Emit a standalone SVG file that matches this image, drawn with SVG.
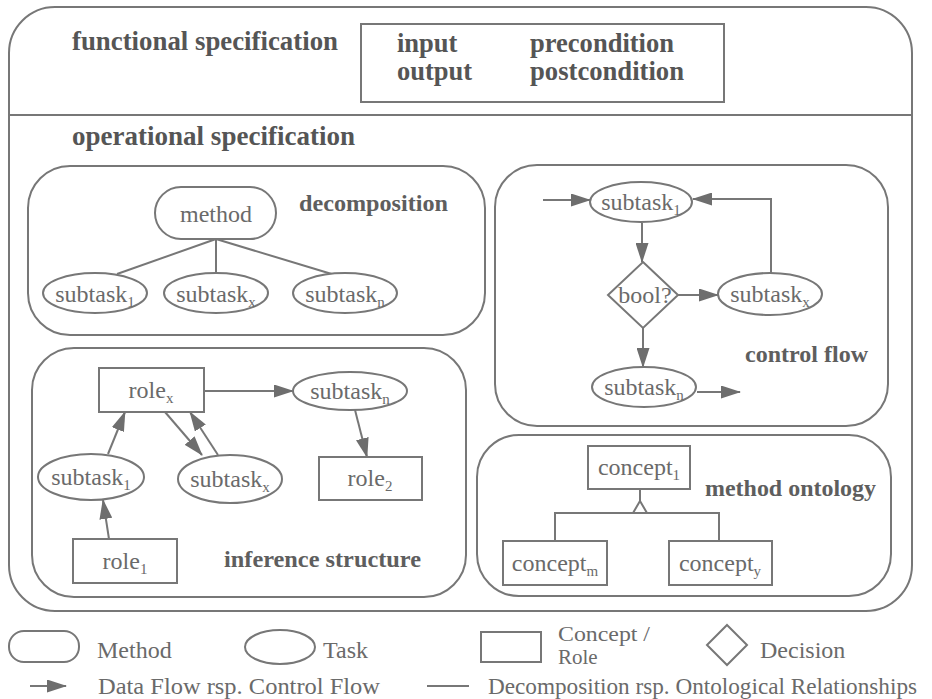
<svg xmlns="http://www.w3.org/2000/svg" width="932" height="699" viewBox="0 0 932 699">
  <defs>
    <marker id="arrow" viewBox="0 0 20 13" markerUnits="userSpaceOnUse" markerWidth="20" markerHeight="13" refX="19" refY="6.5" orient="auto">
      <path d="M0,0 L20,6.5 L0,13 z" fill="#6e6e6e"/>
    </marker>
    <style>
      .frame { fill: none; stroke: #777; stroke-width: 2; }
      .shape { fill: #fff; stroke: #777; stroke-width: 2; }
      .edge { fill: none; stroke: #777; stroke-width: 2; }
      .flow { fill: none; stroke: #777; stroke-width: 2; }
      .head { font-family: "Liberation Serif", "Times New Roman", serif; font-weight: bold; font-size: 26.5px; fill: #555; }
      .sect { font-family: "Liberation Serif", "Times New Roman", serif; font-weight: bold; font-size: 24px; fill: #5e5e5e; }
      .lbl { font-family: "Liberation Serif", "Times New Roman", serif; font-size: 24px; fill: #6a6a6a; text-anchor: middle; }
      .leg { font-family: "Liberation Serif", "Times New Roman", serif; font-size: 24px; fill: #6a6a6a; }
      .leg2 { font-family: "Liberation Serif", "Times New Roman", serif; font-size: 21px; fill: #6a6a6a; }
      .sub { font-size: 15px; fill: #6a6a6a; }
    </style>
  </defs>

  <!-- outer task frame -->
  <g id="task-frame">
    <rect class="frame" x="9" y="7" width="903" height="604" rx="46" ry="46"/>
    <line class="frame" x1="9" y1="115" x2="912" y2="115"/>
    <text class="head" x="72" y="50" textLength="266" lengthAdjust="spacingAndGlyphs">functional specification</text>
    <rect class="frame" x="361" y="24" width="363" height="78"/>
    <text class="head" x="397" y="52">input</text>
    <text class="head" x="530" y="52" textLength="144" lengthAdjust="spacingAndGlyphs">precondition</text>
    <text class="head" x="397" y="80">output</text>
    <text class="head" x="530" y="80" textLength="154" lengthAdjust="spacingAndGlyphs">postcondition</text>
    <text class="head" x="72" y="145" textLength="283" lengthAdjust="spacingAndGlyphs">operational specification</text>
  </g>

  <!-- sub-panels -->
  <g id="panel-decomposition">
    <rect class="frame" x="28" y="166" width="457" height="169" rx="42" ry="42"/>
    <text class="sect" x="299" y="211" textLength="149" lengthAdjust="spacingAndGlyphs">decomposition</text>
  </g>
  <g id="panel-control-flow">
    <rect class="frame" x="495" y="165" width="393" height="261" rx="42" ry="42"/>
    <text class="sect" x="745" y="362" textLength="123" lengthAdjust="spacingAndGlyphs">control flow</text>
  </g>
  <g id="panel-inference">
    <rect class="frame" x="32" y="348" width="434" height="249" rx="42" ry="42"/>
    <text class="sect" x="224" y="567" textLength="197" lengthAdjust="spacingAndGlyphs">inference structure</text>
  </g>
  <g id="panel-ontology">
    <rect class="frame" x="477" y="435" width="414" height="161" rx="42" ry="42"/>
    <text class="sect" x="705" y="496" textLength="171" lengthAdjust="spacingAndGlyphs">method ontology</text>
  </g>

  <!-- connectors -->
  <g id="connectors">
    <!-- decomposition -->
    <line class="edge" x1="216" y1="239" x2="117" y2="274"/>
    <line class="edge" x1="216" y1="239" x2="216" y2="273"/>
    <line class="edge" x1="216" y1="239" x2="335" y2="275"/>
    <!-- control flow -->
    <line class="flow" x1="543" y1="200" x2="590" y2="200" marker-end="url(#arrow)"/>
    <path class="flow" d="M771,273 V199 H693" marker-end="url(#arrow)"/>
    <line class="flow" x1="642" y1="223" x2="642" y2="262" marker-end="url(#arrow)"/>
    <line class="flow" x1="678" y1="295" x2="718" y2="295" marker-end="url(#arrow)"/>
    <line class="flow" x1="643" y1="328" x2="643" y2="367" marker-end="url(#arrow)"/>
    <line class="flow" x1="697" y1="392" x2="740" y2="392" marker-end="url(#arrow)"/>
    <!-- inference structure -->
    <line class="flow" x1="204" y1="391" x2="293" y2="391" marker-end="url(#arrow)"/>
    <line class="flow" x1="355" y1="410" x2="367" y2="457" marker-end="url(#arrow)"/>
    <line class="flow" x1="108" y1="454" x2="125" y2="412" marker-end="url(#arrow)"/>
    <line class="flow" x1="165" y1="412" x2="202" y2="455" marker-end="url(#arrow)"/>
    <line class="flow" x1="218" y1="455" x2="190" y2="412" marker-end="url(#arrow)"/>
    <line class="flow" x1="109" y1="539" x2="103" y2="500" marker-end="url(#arrow)"/>
    <!-- method ontology -->
    <line class="edge" x1="640" y1="489" x2="640" y2="501"/>
    <polyline class="edge" points="633,513 640,501 647,513"/>
    <polyline class="edge" points="555,541 555,513 719,513 719,541"/>
  </g>

  <!-- decomposition nodes -->
  <g id="dec-method">
    <rect class="shape" x="155" y="187" width="121" height="52" rx="26" ry="26"/>
    <text class="lbl" x="216" y="222">method</text>
  </g>
  <g id="dec-subtask-1">
    <ellipse class="shape" cx="95" cy="293" rx="52" ry="20"/>
    <text class="lbl" x="95" y="302">subtask<tspan class="sub" dy="5">1</tspan></text>
  </g>
  <g id="dec-subtask-x">
    <ellipse class="shape" cx="216" cy="293" rx="52" ry="20"/>
    <text class="lbl" x="216" y="302">subtask<tspan class="sub" dy="5">x</tspan></text>
  </g>
  <g id="dec-subtask-n">
    <ellipse class="shape" cx="345" cy="293" rx="52" ry="20"/>
    <text class="lbl" x="345" y="302">subtask<tspan class="sub" dy="5">n</tspan></text>
  </g>

  <!-- control flow nodes -->
  <g id="cf-subtask-1">
    <ellipse class="shape" cx="641" cy="202" rx="51" ry="20"/>
    <text class="lbl" x="641" y="210">subtask<tspan class="sub" dy="5">1</tspan></text>
  </g>
  <g id="cf-decision">
    <polygon class="shape" points="643,262 678,295 643,328 608,295"/>
    <text class="lbl" x="645" y="303">bool?</text>
  </g>
  <g id="cf-subtask-x">
    <ellipse class="shape" cx="770" cy="294" rx="52" ry="21"/>
    <text class="lbl" x="770" y="302">subtask<tspan class="sub" dy="5">x</tspan></text>
  </g>
  <g id="cf-subtask-n">
    <ellipse class="shape" cx="644" cy="387" rx="52" ry="20"/>
    <text class="lbl" x="644" y="395">subtask<tspan class="sub" dy="5">n</tspan></text>
  </g>

  <!-- inference structure nodes -->
  <g id="inf-role-x">
    <rect class="shape" x="99" y="368" width="105" height="44"/>
    <text class="lbl" x="151" y="398">role<tspan class="sub" dy="5">x</tspan></text>
  </g>
  <g id="inf-subtask-n">
    <ellipse class="shape" cx="350" cy="391" rx="57" ry="19"/>
    <text class="lbl" x="350" y="399">subtask<tspan class="sub" dy="5">n</tspan></text>
  </g>
  <g id="inf-role-2">
    <rect class="shape" x="319" y="457" width="103" height="43"/>
    <text class="lbl" x="370" y="486">role<tspan class="sub" dy="5">2</tspan></text>
  </g>
  <g id="inf-subtask-1">
    <ellipse class="shape" cx="91" cy="477" rx="53" ry="23"/>
    <text class="lbl" x="91" y="485">subtask<tspan class="sub" dy="5">1</tspan></text>
  </g>
  <g id="inf-subtask-x">
    <ellipse class="shape" cx="230" cy="479" rx="52" ry="24"/>
    <text class="lbl" x="230" y="487">subtask<tspan class="sub" dy="5">x</tspan></text>
  </g>
  <g id="inf-role-1">
    <rect class="shape" x="73" y="539" width="104" height="44"/>
    <text class="lbl" x="125" y="569">role<tspan class="sub" dy="5">1</tspan></text>
  </g>

  <!-- method ontology nodes -->
  <g id="ont-concept-1">
    <rect class="shape" x="588" y="446" width="102" height="43"/>
    <text class="lbl" x="639" y="475">concept<tspan class="sub" dy="5">1</tspan></text>
  </g>
  <g id="ont-concept-m">
    <rect class="shape" x="503" y="541" width="104" height="44"/>
    <text class="lbl" x="555" y="571">concept<tspan class="sub" dy="5">m</tspan></text>
  </g>
  <g id="ont-concept-y">
    <rect class="shape" x="669" y="541" width="103" height="44"/>
    <text class="lbl" x="720" y="571">concept<tspan class="sub" dy="5">y</tspan></text>
  </g>

  <!-- legend -->
  <g id="legend">
    <rect class="shape" x="9" y="631" width="70" height="31" rx="15" ry="15"/>
    <text class="leg" x="97" y="658">Method</text>
    <ellipse class="shape" cx="280" cy="647" rx="35" ry="17"/>
    <text class="leg" x="323" y="658">Task</text>
    <rect class="shape" x="481" y="632" width="60" height="30"/>
    <text class="leg2" x="558" y="641" textLength="92" lengthAdjust="spacingAndGlyphs">Concept /</text>
    <text class="leg2" x="558" y="664">Role</text>
    <polygon class="shape" points="727,625 747,645 727,665 707,645"/>
    <text class="leg" x="760" y="658">Decision</text>
    <line class="flow" x1="30" y1="686" x2="66" y2="686" marker-end="url(#arrow)"/>
    <text class="leg" x="98" y="694" textLength="282" lengthAdjust="spacingAndGlyphs">Data Flow rsp. Control Flow</text>
    <line class="edge" x1="427" y1="686" x2="469" y2="686"/>
    <text class="leg" x="488" y="694" textLength="429" lengthAdjust="spacingAndGlyphs">Decomposition rsp. Ontological Relationships</text>
  </g>
</svg>
